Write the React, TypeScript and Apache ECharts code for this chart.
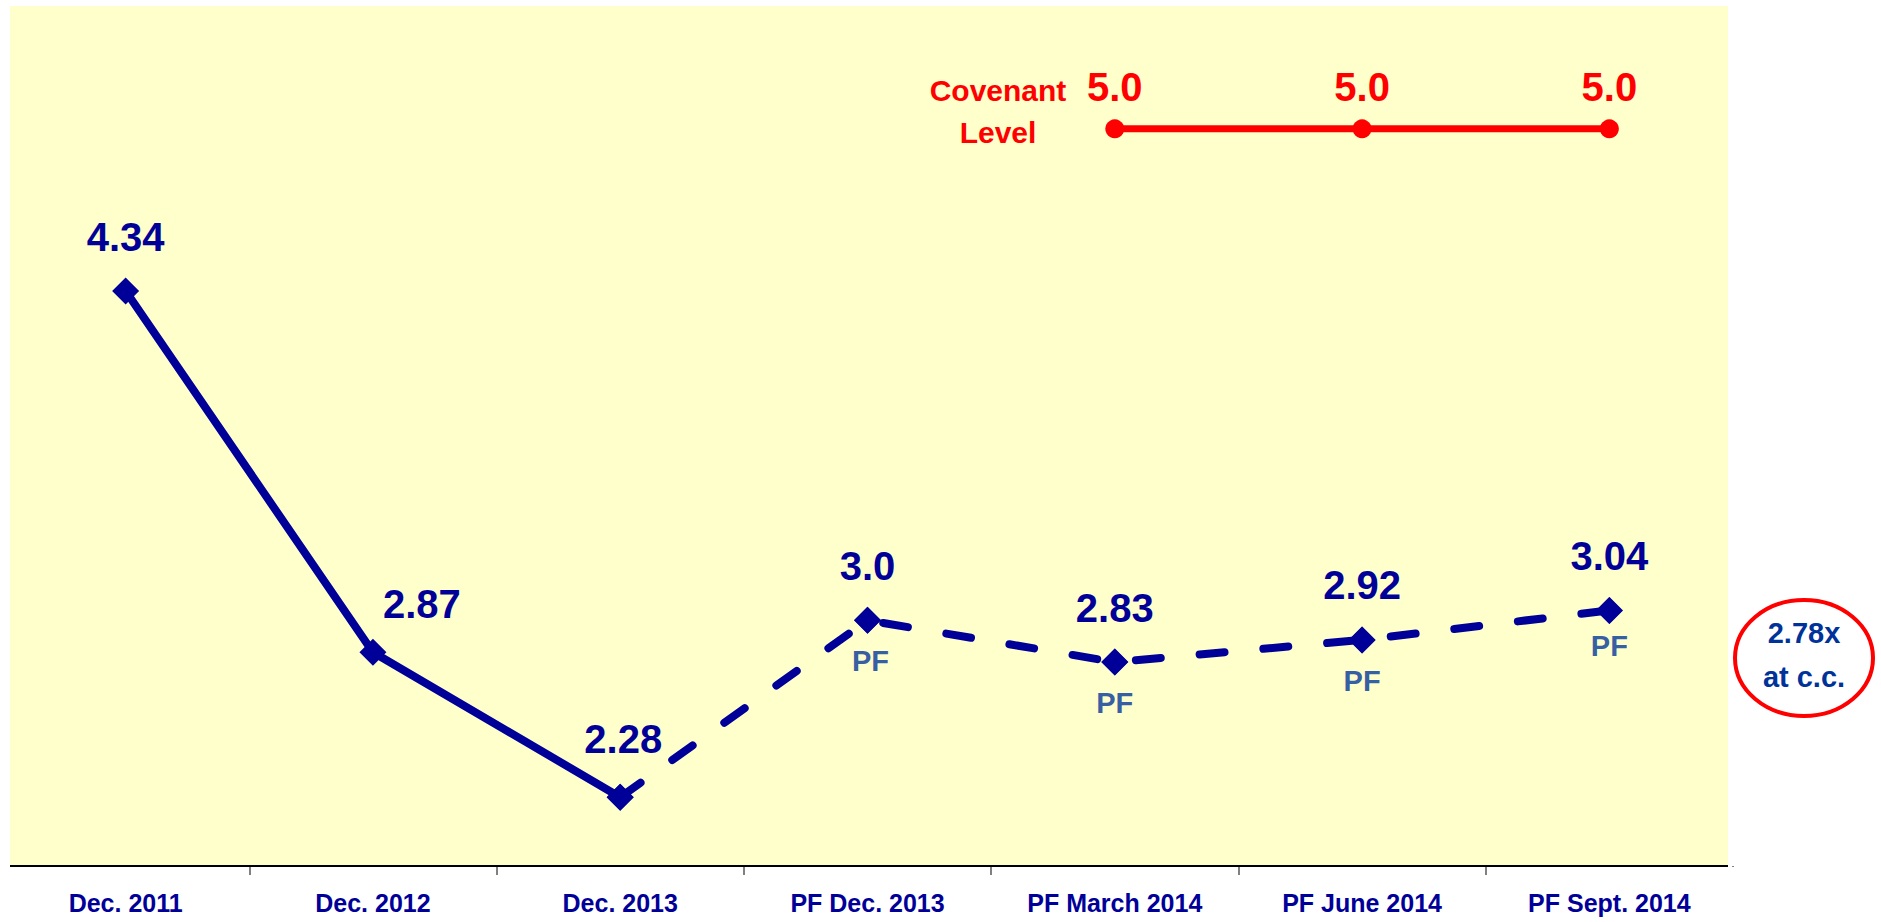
import React, { useEffect, useRef } from "react";
import * as echarts from "echarts";

const categories = [
  "Dec. 2011",
  "Dec. 2012",
  "Dec. 2013",
  "PF Dec. 2013",
  "PF March 2014",
  "PF June 2014",
  "PF Sept. 2014",
];
const actualValues = [4.34, 2.87, 2.28, null, null, null, null];
const proFormaValues = [null, null, 2.28, 3.0, 2.83, 2.92, 3.04];
const valueLabels = ["4.34", "2.87", "2.28", "3.0", "2.83", "2.92", "3.04"];
const pfTags = ["", "", "", "PF", "PF", "PF", "PF"];
const covenantValues = [null, null, null, null, 5.0, 5.0, 5.0];
const covenantLabels = ["", "", "", "", "5.0", "5.0", "5.0"];
const covenantTitle = "Covenant\nLevel";
const noteText = "2.78x\nat c.c.";

const FONT = "'Liberation Sans', Arial, sans-serif";
const BLUE = "#000099";
const BLUE2 = "#003399";
const RED = "#FF0000";

const labelOffsets: Record<number, number[]> = { 1: [49, 6], 2: [3, -4] };
const pfOffsets: Record<number, number[]> = { 3: [3, 0], 6: [0, -5] };

export default function App() {
  const ref = useRef<HTMLDivElement>(null);
  useEffect(() => {
    if (!ref.current) return;
    const chart = echarts.init(ref.current, null, { renderer: "svg" });
    const valueLabelStyle = {
      show: true,
      position: "top",
      distance: 21,
      color: BLUE,
      fontFamily: FONT,
      fontWeight: "bold",
      fontSize: 40,
    };
    const solidData = actualValues.map((v, i) =>
      v == null
        ? null
        : {
            value: v,
            label: { ...valueLabelStyle, formatter: valueLabels[i], offset: labelOffsets[i] || [0, 0] },
          }
    );
    const dashedData = proFormaValues.map((v, i) =>
      v == null
        ? null
        : {
            value: v,
            label:
              actualValues[i] != null
                ? { show: false }
                : { ...valueLabelStyle, formatter: valueLabels[i], offset: labelOffsets[i] || [0, 0] },
          }
    );
    const pfData = proFormaValues.map((v, i) =>
      v == null || !pfTags[i]
        ? null
        : {
            value: v,
            label: {
              show: true,
              position: "bottom",
              distance: 13,
              formatter: pfTags[i],
              color: BLUE2,
              fontFamily: FONT,
              fontWeight: "bold",
              fontSize: 29,
              offset: pfOffsets[i] || [0, 0],
            },
          }
    );
    const covData = covenantValues.map((v, i) =>
      v == null
        ? null
        : {
            value: v,
            label: {
              show: true,
              position: "top",
              distance: 12,
              formatter: covenantLabels[i],
              color: RED,
              fontFamily: FONT,
              fontWeight: "bold",
              fontSize: 40,
            },
          }
    );

    chart.setOption({
      animation: false,
      backgroundColor: "#FFFFFF",
      grid: { left: 2, right: 148, top: 6, bottom: 56, containLabel: false },
      graphic: [
        {
          type: "rect",
          z: -10,
          silent: true,
          shape: { x: 10, y: 6, width: 1718, height: 860 },
          style: { fill: "#FFFFCC" },
        },
        {
          type: "line",
          z: 5,
          silent: true,
          shape: { x1: 10, y1: 866, x2: 1728, y2: 866 },
          style: { stroke: "#000000", lineWidth: 2 },
        },
        {
          type: "rect",
          z: 20,
          silent: true,
          shape: { x: 1729, y: 867, width: 12, height: 14 },
          style: { fill: "#FFFFFF" },
        },
        {
          type: "text",
          silent: true,
          x: 998,
          y: 111,
          style: {
            text: covenantTitle,
            fill: RED,
            font: `bold 30px ${FONT}`,
            align: "center",
            verticalAlign: "middle",
            lineHeight: 42,
          },
        },
        {
          type: "ellipse",
          silent: true,
          shape: { cx: 1804, cy: 658, rx: 69, ry: 58 },
          style: { fill: "#FFFFFF", stroke: RED, lineWidth: 4 },
        },
        {
          type: "text",
          silent: true,
          x: 1804,
          y: 655,
          z: 10,
          style: {
            text: noteText,
            fill: BLUE2,
            font: `bold 29px ${FONT}`,
            align: "center",
            verticalAlign: "middle",
            lineHeight: 44,
          },
        },
      ],
      xAxis: {
        type: "category",
        data: categories,
        boundaryGap: true,
        axisLine: { show: false },
        axisTick: {
          show: true,
          length: 9,
          interval: (index: number) => index > 0,
          lineStyle: { color: "#808080", width: 2 },
        },
        axisLabel: {
          color: BLUE,
          fontFamily: FONT,
          fontWeight: "bold",
          fontSize: 25,
          margin: 24,
          interval: 0,
        },
        splitLine: { show: false },
      },
      yAxis: {
        type: "value",
        min: 2,
        max: 5.5,
        show: false,
        splitLine: { show: false },
      },
      series: [
        {
          name: "Covenant",
          type: "line",
          data: covData,
          symbol: "circle",
          symbolSize: 19,
          lineStyle: { color: RED, width: 7 },
          itemStyle: { color: RED },
          z: 4,
        },
        {
          name: "PF tags",
          type: "scatter",
          data: pfData,
          symbol: "diamond",
          symbolSize: 27,
          itemStyle: { color: BLUE },
          z: 3,
        },
        {
          name: "Pro forma",
          type: "line",
          data: dashedData,
          symbol: "diamond",
          symbolSize: 27,
          lineStyle: { color: BLUE, width: 8, type: [25, 39], cap: "round" },
          itemStyle: { color: BLUE },
          z: 4,
        },
        {
          name: "Actual",
          type: "line",
          data: solidData,
          symbol: "diamond",
          symbolSize: 27,
          lineStyle: { color: BLUE, width: 8 },
          itemStyle: { color: BLUE },
          z: 5,
        },
      ],
    });
    return () => chart.dispose();
  }, []);
  return (
    <div
      ref={ref}
      style={{ position: "fixed", left: 0, top: 0, width: 1881, height: 922 }}
    />
  );
}
